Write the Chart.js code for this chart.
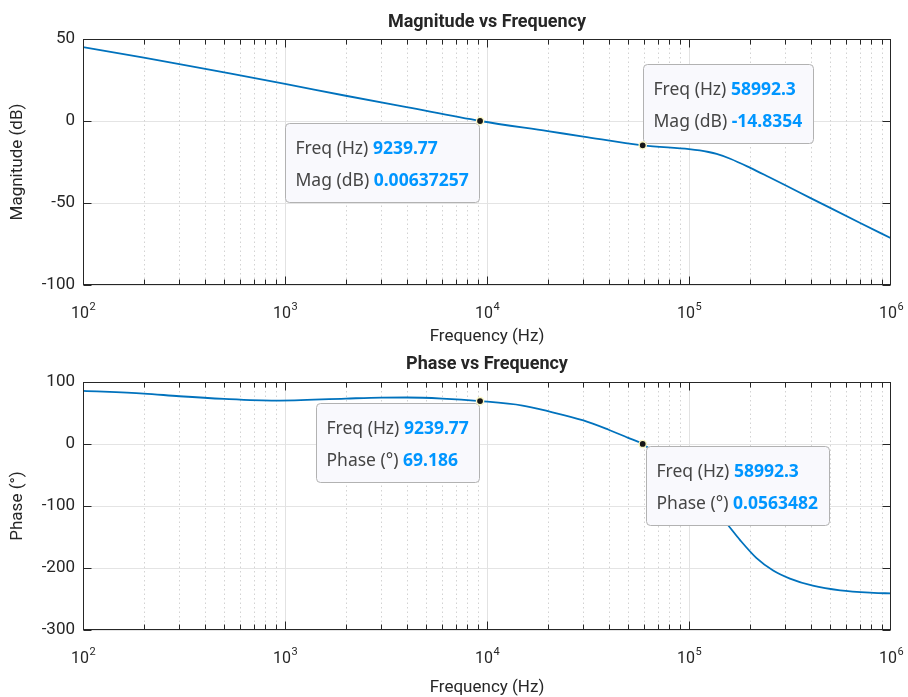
<!DOCTYPE html>
<html><head><meta charset="utf-8">
<script src="https://cdn.jsdelivr.net/npm/chart.js@4"></script>
<style>
html,body{margin:0;padding:0;background:#fff;}
#wrap{position:relative;width:908px;height:697px;overflow:hidden;}
canvas{position:absolute;left:0;}
</style></head><body>
<div id="wrap">
<canvas id="c1" width="908" height="348" style="top:0;width:908px;height:348px"></canvas>
<canvas id="c2" width="908" height="349" style="top:348px;width:908px;height:349px"></canvas>
</div>
<script>
// ---- data ----
const magFreqHz = [100, 200, 300, 500, 1000, 2000, 4000, 9239.77, 20000, 30000, 58992.3, 100000, 113000, 125000, 137000, 160000, 200000, 250000, 300000, 400000, 500000, 700000, 1000000];
const magDb = [45.1, 38.6, 34.7, 29.6, 22.6, 15.4, 8.4, 0.0064, -6.2, -9.5, -14.84, -17.1, -17.9, -18.9, -20.1, -23.0, -28.4, -34.3, -39.2, -47.0, -53.0, -62.0, -71.5];
const phaseFreqHz = [100, 200, 300, 500, 900, 2000, 3000, 4000, 6000, 9239.77, 15000, 20000, 30000, 40000, 50000, 58992.3, 75000, 100000, 126000, 158000, 179000, 216000, 261000, 316000, 410000, 560000, 820000, 1000000];
const phaseDeg = [85.6, 81.4, 77.0, 72.7, 70.0, 73.3, 74.8, 75.0, 73.3, 69.186, 62, 53, 38, 23, 10, 0.056, -26, -60, -94, -133, -155, -184, -204, -217, -228.5, -236, -240, -241];
const decadeTicks = [100, 1000, 10000, 100000, 1000000];
const magTicks = [50, 0, -50, -100];
const phaseTicks = [100, 0, -100, -200, -300];
const tipFreq = [9239.77, 58992.3];
const tipMag = [0.00637257, -14.8354];
const tipPhase = [69.186, 0.0563482];

const TXT = '#262626';
const TICK_FONT = '16px Roboto';

const bodePlugin = {
  id: 'bode',
  beforeDatasetsDraw(chart) {
    const ctx = chart.ctx, xs = chart.scales.x, a = chart.chartArea;
    ctx.save();
    for (let e = 2; e < 6; e++) {
      for (let m = 1; m < 10; m++) {
        const v = m * Math.pow(10, e);
        const px = Math.round(xs.getPixelForValue(v)) + 0.5;
        ctx.beginPath();
        if (m === 1) { ctx.setLineDash([]); ctx.strokeStyle = '#e2e2e2'; }
        else { ctx.setLineDash([1.5, 3]); ctx.strokeStyle = '#d2d2d2'; }
        ctx.lineWidth = 1;
        ctx.moveTo(px, a.top); ctx.lineTo(px, a.bottom); ctx.stroke();
      }
    }
    ctx.restore();
  },
  beforeDatasetDraw(chart, args, opts) {
    if (args.index !== 1) return;
    const ctx = chart.ctx, xs = chart.scales.x, ys = chart.scales.y;
    ctx.save();
    (opts.tips || []).forEach(t => {
      const px = xs.getPixelForValue(t.x), py = ys.getPixelForValue(t.y);
      const lf = '17.5px "Noto Sans"', vf = 'bold 17.5px "Noto Sans"';
      let w = 0;
      t.rows.forEach(r => {
        ctx.font = lf; const a = ctx.measureText(r[0] + ' ').width;
        ctx.font = vf; const b = ctx.measureText(r[1]).width;
        w = Math.max(w, a + b);
      });
      const bw = Math.round(w + 21), bh = 79;
      let left, top;
      if (t.place === 'lb') { left = px - 1.5 - bw; top = py + 2; }
      else if (t.place === 'ra') { left = px + 0.5; top = py - 2 - bh; }
      else { left = px + 3; top = py + 2; }
      left = Math.round(left) + 0.5; top = Math.round(top) + 0.5;
      ctx.beginPath();
      ctx.roundRect(left, top, bw, bh, 4);
      ctx.fillStyle = '#f9f9fd'; ctx.fill();
      ctx.strokeStyle = '#b2b2b2'; ctx.lineWidth = 1; ctx.stroke();
      ctx.textBaseline = 'middle'; ctx.textAlign = 'left';
      t.rows.forEach((r, i) => {
        const y = top + 26 + i * 32;
        ctx.font = lf; ctx.fillStyle = '#454545';
        ctx.fillText(r[0] + ' ', left + 10, y);
        const a = ctx.measureText(r[0] + ' ').width;
        ctx.font = vf; ctx.fillStyle = '#0096ff';
        ctx.fillText(r[1], left + 10 + a, y);
      });
    });
    ctx.restore();
  },
  afterDraw(chart, args, opts) {
    const ctx = chart.ctx, xs = chart.scales.x, ys = chart.scales.y, a = chart.chartArea;
    const L = Math.round(a.left) + 0.5, R = Math.round(a.right) - 0.5;
    const T = Math.round(a.top) + 0.5, B = Math.round(a.bottom) - 0.5;
    ctx.save();
    ctx.strokeStyle = TXT; ctx.lineWidth = 1; ctx.setLineDash([]);
    ctx.beginPath();
    for (let e = 2; e < 6; e++) {
      for (let m = 1; m < 10; m++) {
        const v = m * Math.pow(10, e);
        const px = Math.round(xs.getPixelForValue(v)) + 0.5;
        const len = m === 1 ? 8 : 5;
        ctx.moveTo(px, B); ctx.lineTo(px, B - len);
        ctx.moveTo(px, T); ctx.lineTo(px, T + len);
      }
    }
    (opts.yTicks || []).forEach(v => {
      const py = Math.round(ys.getPixelForValue(v)) + 0.5;
      ctx.moveTo(L, py); ctx.lineTo(L + 8, py);
      ctx.moveTo(R, py); ctx.lineTo(R - 8, py);
    });
    ctx.stroke();
    ctx.strokeRect(L, T, R - L, B - T);
    ctx.fillStyle = TXT; ctx.textBaseline = 'alphabetic'; ctx.textAlign = 'left';
    decadeTicks.forEach(v => {
      const px = xs.getPixelForValue(v);
      const ex = String(Math.round(Math.log10(v)));
      ctx.font = TICK_FONT; const w1 = ctx.measureText('10').width;
      ctx.font = '11px Roboto'; const w2 = ctx.measureText(ex).width;
      const x0 = px - (w1 + w2) / 2;
      const by = a.bottom + 33;
      ctx.font = TICK_FONT; ctx.fillText('10', x0, by);
      ctx.font = '11px Roboto'; ctx.fillText(ex, x0 + w1 + 0.5, by - 8);
    });
    ctx.restore();
  }
};

function makeChart(id, o) {
  const line = o.fx.map((f, i) => ({ x: f, y: o.fy[i] }));
  const tips = o.tx.map((f, i) => ({ x: f, y: o.ty[i] }));
  return new Chart(document.getElementById(id), {
    type: 'line',
    data: {
      datasets: [
        { data: line, order: 2, borderColor: '#0072BD', borderWidth: 1.8, pointRadius: 0, cubicInterpolationMode: 'monotone', fill: false },
        { data: tips, order: 1, showLine: false, pointRadius: 3.6, pointBackgroundColor: '#161616', pointBorderColor: '#fbf7c4', pointBorderWidth: 1.4 }
      ]
    },
    options: {
      responsive: false, maintainAspectRatio: false, animation: false, events: [],
      layout: { padding: { left: 0, right: 17, top: 0, bottom: 0 } },
      plugins: {
        legend: { display: false }, tooltip: { enabled: false },
        title: { display: true, text: o.title, color: TXT, fullSize: false,
          font: { family: 'Roboto', size: 18, weight: 'bold', lineHeight: 1.2 },
          padding: { top: o.titlePadTop, bottom: o.titlePadBottom } },
        bode: { tips: o.tips, yTicks: o.yTicks }
      },
      scales: {
        x: {
          type: 'logarithmic', min: 100, max: 1000000,
          grid: { display: false }, border: { display: false },
          ticks: { display: false },
          title: { display: true, text: 'Frequency (Hz)', color: TXT,
            font: { family: 'Roboto', size: 17, lineHeight: 1.0 },
            padding: { top: 0, bottom: o.xTitlePadBottom } },
          afterFit: s => { s.height = o.xHeight; }
        },
        y: {
          type: 'linear', min: o.yMin, max: o.yMax,
          afterBuildTicks: s => { s.ticks = o.yTicks.map(v => ({ value: v })); },
          ticks: { color: TXT, font: { family: 'Roboto', size: 17 }, padding: 8, callback: v => String(v) },
          grid: { color: '#e4e4e4', drawTicks: false, lineWidth: 1 },
          border: { display: false },
          title: { display: true, text: o.yTitle, color: TXT,
            font: { family: 'Roboto', size: 17, lineHeight: 1.2 },
            padding: { top: 8, bottom: 0 } },
          afterFit: s => { s.width = 83; }
        }
      }
    },
    plugins: [bodePlugin]
  });
}

makeChart('c1', {
  fx: magFreqHz, fy: magDb, tx: tipFreq, ty: tipMag,
  title: 'Magnitude vs Frequency', titlePadTop: 11.2, titlePadBottom: 6.2,
  xHeight: 63, xTitlePadBottom: 2.5, yMin: -100, yMax: 50, yTicks: magTicks,
  yTitle: 'Magnitude (dB)',
  tips: [
    { x: tipFreq[0], y: tipMag[0], place: 'lb', rows: [['Freq (Hz)', String(tipFreq[0])], ['Mag (dB)', String(tipMag[0])]] },
    { x: tipFreq[1], y: tipMag[1], place: 'ra', rows: [['Freq (Hz)', String(tipFreq[1])], ['Mag (dB)', String(tipMag[1])]] }
  ]
});
makeChart('c2', {
  fx: phaseFreqHz, fy: phaseDeg, tx: tipFreq, ty: tipPhase,
  title: 'Phase vs Frequency', titlePadTop: 5.2, titlePadBottom: 7.2,
  xHeight: 67, xTitlePadBottom: 0.5, yMin: -300, yMax: 100, yTicks: phaseTicks,
  yTitle: 'Phase (°)',
  tips: [
    { x: tipFreq[0], y: tipPhase[0], place: 'lb', rows: [['Freq (Hz)', String(tipFreq[0])], ['Phase (°)', String(tipPhase[0])]] },
    { x: tipFreq[1], y: tipPhase[1], place: 'rb', rows: [['Freq (Hz)', String(tipFreq[1])], ['Phase (°)', String(tipPhase[1])]] }
  ]
});
</script>
</body></html>
